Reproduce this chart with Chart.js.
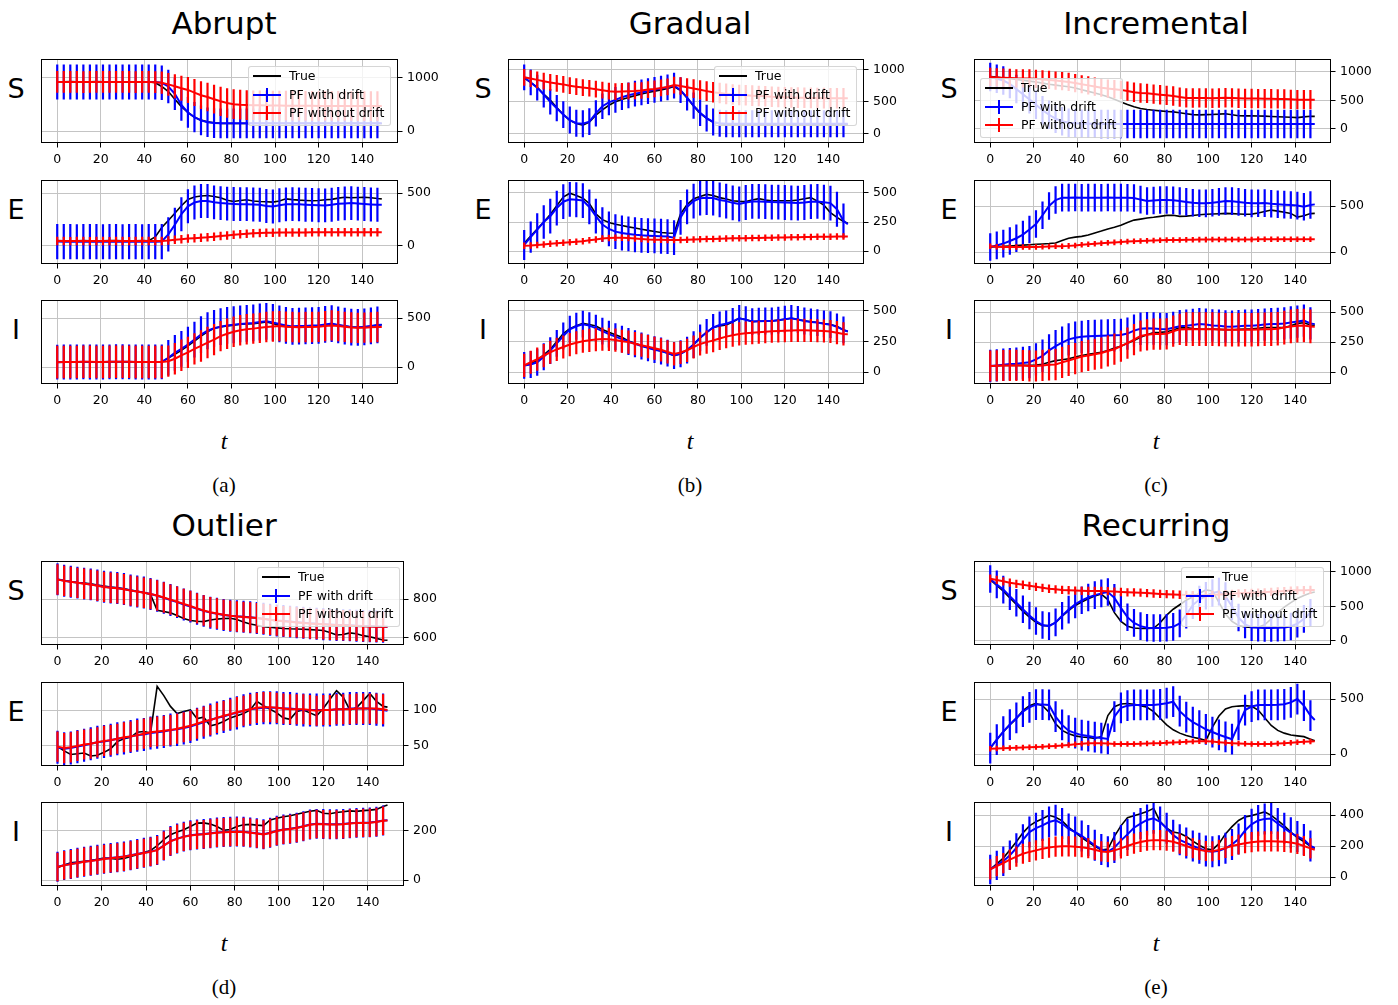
<!DOCTYPE html>
<html><head><meta charset="utf-8">
<script src="https://cdn.jsdelivr.net/npm/chart.js@4.4.0/dist/chart.umd.min.js"></script>
<style>
html,body{margin:0;padding:0;background:#fff;}
body{width:1398px;height:1005px;position:relative;overflow:hidden;font-family:"DejaVu Sans";color:#000;}
.txt{position:absolute;white-space:nowrap;line-height:1;transform:translateX(-50%);}
canvas{position:absolute;}
.leg{position:absolute;width:141px;height:58px;background:rgba(255,255,255,0.8);border:1px solid rgba(204,204,204,0.8);border-radius:3px;font-family:"DejaVu Sans";font-size:12.5px;z-index:5;}
.leg .row{position:absolute;left:0;height:18px;width:141px;}
.leg svg{position:absolute;left:3px;top:0;}
.leg span{position:absolute;left:40px;top:0;line-height:18px;white-space:nowrap;}
</style></head><body>
<script>
// ---------- DATA ----------
const T = [0,3,6,9,12,15,18,21,24,27, 30,33,36,39,42,45,48,51,54,57, 60,63,66,69,72,75,78,81,84,87, 90,93,96,99,102,105,108,111,114,117, 120,123,126,129,132,135,138,141,144,147, 149];
const xTicks = [0,20,40,60,80,100,120,140];
const legendLabels = ['True','PF with drift','PF without drift'];
const panelTitles = ['Abrupt','Gradual','Incremental','Outlier','Recurring'];
const panelCaptions = ['(a)','(b)','(c)','(d)','(e)'];
const rowLabels = ['S','E','I'];
const axisLabel = 't';

// Abrupt
const abruptS_yTicks = [0,1000];
const abruptS_true = [930,930,931,930,929,930,931,930,930,929, 930,930,929,930,930,910,840,745,600,460, 350,260,205,172,155,145,143,142,142,142, 142,142,142,142,142,142,142,142,142,142, 142,142,142,142,142,142,142,142,142,142, 142];
const abruptS_drift = [925,926,925,924,925,926,925,924,925,926, 925,924,925,926,925,922,910,840,700,490, 350,260,200,165,150,145,145,145,145,145, 145,145,145,145,145,145,145,145,145,145, 145,145,145,145,145,145,145,145,145,145, 145];
const abruptS_driftErr = [330,330,330,330,330,330,330,330,330,330, 330,330,330,330,330,330,325,315,305,295, 290,285,282,280,280,280,280,280,280,280, 280,280,280,280,280,280,280,280,280,280, 280,280,280,280,280,280,280,280,280,280];
const abruptS_noDrift = [925,925,926,925,924,925,925,926,925,925, 925,925,924,925,925,920,912,880,845,805, 775,725,675,640,600,560,528,506,496,490, 486,484,482,480,479,478,477,476,475,475, 474,474,473,473,472,472,471,471,470,470, 470];
const abruptS_noDriftErr = [205,205,205,205,205,205,205,205,205,205, 205,205,205,205,205,205,208,215,225,235, 245,255,262,268,272,276,278,280,280,280, 280,280,280,280,280,280,280,280,280,280, 280,280,280,280,280,280,280,280,280,280];

const abruptE_yTicks = [0,500];
const abruptE_true = [52,50,49,50,51,50,48,50,52,51, 50,49,50,51,50,85,175,240,310,380, 440,462,472,477,468,456,432,420,430,436, 425,420,418,414,425,445,438,433,430,427, 430,436,440,452,460,455,458,460,455,448, 445];
const abruptE_drift = [42,41,41,40,41,42,41,40,41,41, 40,41,41,40,41,41,42,110,200,300, 375,410,425,425,412,405,400,397,395,395, 392,389,378,373,385,393,395,393,390,388, 385,383,390,398,402,405,400,396,392,389, 389];
const abruptE_driftErr = [166,166,166,166,166,166,166,166,166,166, 166,166,166,166,166,166,166,162,160,160, 160,160,160,160,160,160,160,160,160,160, 160,160,160,160,160,160,160,160,160,160, 160,160,160,160,160,160,160,160,160,160];
const abruptE_noDrift = [47,47,46,47,47,46,47,47,46,47, 47,46,47,47,47,47,48,52,58,64, 70,74,78,82,88,95,100,106,111,116, 120,123,125,126,127,127,128,128,128,129, 129,129,129,130,130,130,130,130,130,130, 130];
const abruptE_noDriftErr = [40,40,40,40,40,40,40,40,40,40, 40,40,40,40,40,40,40,40,40,40, 40,40,40,40,40,40,40,40,40,40, 40,40,40,40,40,40,40,40,40,40, 40,40,40,40,40,40,40,40,40,40];

const abruptI_yTicks = [0,500];
const abruptI_true = [50,51,52,52,53,52,51,52,53,54, 54,53,52,52,51,51,52,92,130,170, 215,265,315,360,395,410,420,428,436,440, 443,450,459,445,425,415,408,410,415,418, 422,430,436,428,418,408,405,408,415,428, 432];
const abruptI_drift = [50,51,52,52,53,52,51,52,53,54, 54,53,52,52,51,51,53,95,145,185, 230,280,330,370,395,412,425,432,440,445, 450,460,466,455,440,425,415,418,420,423, 425,435,443,430,418,408,405,410,420,430, 432];
const abruptI_driftErr = [178,178,178,178,178,178,178,178,178,178, 178,178,178,178,178,178,178,182,182,182, 182,182,188,188,188,188,188,188,188,188, 188,188,188,188,188,188,188,188,188,188, 188,188,188,188,188,188,188,188,188,188];
const abruptI_noDrift = [50,51,52,52,53,53,52,52,53,54, 54,53,52,52,51,51,52,60,85,120, 150,185,215,250,280,315,340,360,375,385, 392,400,408,413,418,412,408,405,408,408, 410,418,425,418,410,403,400,402,405,408, 408];
const abruptI_noDriftErr = [166,166,166,166,166,166,166,166,166,166, 166,166,166,166,166,166,166,160,160,160, 160,160,160,160,160,155,155,155,155,155, 155,155,155,155,155,155,155,155,155,155, 155,155,155,155,155,155,155,155,155,155];

// Gradual
const gradualS_yTicks = [0,500,1000];
const gradualS_true = [869,800,725,620,525,410,300,210,160,135, 185,290,375,445,500,535,565,595,620,645, 665,685,705,736,675,560,430,320,240,180, 160,150,148,148,148,148,148,148,148,148, 148,148,148,148,148,148,148,148,148,148, 148];
const gradualS_drift = [880,800,720,610,500,400,300,215,165,158, 190,320,430,490,530,570,600,625,645,665, 685,705,725,750,680,565,440,330,245,185, 165,158,158,158,158,158,158,158,158,158, 158,158,158,158,158,158,158,158,158,158, 158];
const gradualS_driftErr = [200,200,200,200,200,205,208,210,210,210, 208,205,200,200,200,200,200,200,200,200, 200,200,200,200,200,200,205,208,210,210, 210,210,210,210,210,210,210,210,210,210, 210,210,210,210,210,210,210,210,210,210];
const gradualS_noDrift = [880,860,840,820,800,785,770,750,735,720, 710,695,680,665,657,660,665,668,675,690, 700,715,730,760,745,725,705,685,665,647, 635,622,612,605,600,595,590,585,578,575, 570,567,564,562,560,558,556,555,554,553, 553];
const gradualS_noDriftErr = [130,130,130,130,130,130,130,130,130,130, 130,130,130,130,130,130,130,130,130,130, 130,130,130,130,135,140,145,150,155,160, 160,160,160,160,160,160,160,160,160,160, 160,160,160,160,160,160,160,160,160,160];

const gradualE_yTicks = [0,250,500];
const gradualE_true = [67,130,190,250,315,390,465,498,478,455, 410,320,270,245,230,220,208,198,188,178, 168,160,155,153,320,400,450,470,488,478, 460,448,433,428,427,440,451,440,433,433, 433,433,440,451,460,430,395,330,290,255, 240];
const gradualE_drift = [52,120,185,250,300,370,425,445,442,435, 380,300,228,190,167,155,147,140,135,132, 130,127,124,115,290,380,430,455,460,457, 440,430,415,405,418,427,427,425,422,421, 418,415,413,418,425,427,420,413,360,260, 231];
const gradualE_driftErr = [130,135,140,145,150,150,150,150,150,150, 150,150,150,150,150,150,150,150,150,150, 150,150,150,150,150,150,150,150,150,150, 150,150,150,150,150,150,150,150,150,150, 150,150,150,150,150,150,150,150,150,150];
const gradualE_noDrift = [46,48,52,57,62,67,72,76,80,85, 92,100,108,112,115,114,112,108,104,100, 98,96,95,94,95,97,99,101,103,104, 106,108,109,110,111,112,113,114,115,116, 117,118,119,120,121,122,123,123,124,124, 124];
const gradualE_noDriftErr = [28,28,28,28,28,28,28,28,28,28, 28,28,28,28,28,28,28,28,28,28, 28,28,28,28,28,28,28,28,28,28, 28,28,28,28,28,28,28,28,28,28, 28,28,28,28,28,28,28,28,28,28];

const gradualI_yTicks = [0,250,500];
const gradualI_true = [54,70,95,140,185,250,315,355,380,398, 390,377,348,325,305,285,255,235,215,200, 185,172,155,135,150,180,225,280,325,365, 378,386,410,440,430,413,416,418,418,425, 432,440,430,420,412,406,398,390,375,345, 332];
const gradualI_drift = [54,62,80,125,175,235,295,350,375,392, 380,360,335,310,290,270,250,232,213,198, 183,172,155,135,150,180,225,280,325,365, 385,395,415,440,428,413,416,418,418,425, 432,440,430,418,410,405,395,388,370,345, 332];
const gradualI_driftErr = [110,110,110,110,110,110,110,110,110,110, 110,110,110,110,110,110,110,110,110,110, 110,110,110,110,110,110,110,110,110,110, 110,110,110,110,110,110,110,110,110,110, 110,110,110,110,110,110,110,110,110,110];
const gradualI_noDrift = [54,80,105,135,162,185,205,225,240,252, 260,266,270,268,262,252,245,232,220,208, 195,182,165,148,160,178,205,230,245,258, 275,290,302,312,318,322,326,330,334,336, 338,340,342,342,340,338,336,332,322,312, 310];
const gradualI_noDriftErr = [95,95,95,95,95,95,95,95,95,95, 95,95,95,95,95,95,95,95,95,95, 95,95,95,95,95,95,95,95,95,95, 95,95,95,95,95,95,95,95,95,95, 95,95,95,95,95,95,95,95,95,95];

// Incremental
const incrementalS_yTicks = [0,500,1000];
const incrementalS_true = [920,910,895,885,870,855,840,825,805,785, 770,755,740,720,690,660,630,600,565,520, 475,430,390,360,343,330,318,308,300,285, 268,252,248,252,255,260,268,250,232,230, 230,229,226,220,214,210,205,200,212,223, 222];
const incrementalS_drift = [914,880,850,790,700,610,520,425,330,250, 180,135,110,100,94,92,90,89,88,88, 88,88,88,88,88,88,88,88,88,88, 88,88,88,88,88,88,88,88,88,88, 88,88,88,88,88,88,88,88,88,88, 88];
const incrementalS_driftErr = [250,250,250,250,250,250,250,250,250,250, 250,250,250,250,250,250,250,250,250,250, 250,250,250,250,250,250,250,250,250,250, 250,250,250,250,250,250,250,250,250,250, 250,250,250,250,250,250,250,250,250,250];
const incrementalS_noDrift = [914,905,900,895,890,888,886,880,870,860, 850,838,825,805,785,765,745,725,710,698, 686,665,645,632,625,612,600,590,578,560, 545,543,545,543,540,543,548,545,540,537, 535,533,532,530,528,525,520,515,515,515, 515];
const incrementalS_noDriftErr = [160,160,160,160,160,160,160,160,160,160, 160,160,160,160,160,160,160,160,160,160, 160,170,170,170,170,170,170,170,170,170, 170,170,170,170,170,170,170,170,170,170, 170,170,170,170,170,170,170,170,170,170];

const incrementalE_yTicks = [0,500];
const incrementalE_true = [55,58,62,66,70,75,80,84,88,92, 98,125,150,162,170,185,208,228,250,270, 292,322,347,358,370,378,388,398,400,388, 390,398,405,410,413,416,420,418,414,410, 412,425,440,456,445,432,420,380,395,418, 420];
const incrementalE_drift = [55,72,92,120,150,190,245,305,400,500, 565,591,591,592,590,591,591,590,592,591, 591,590,588,570,555,560,566,566,562,555, 545,535,530,529,535,545,555,553,545,535, 529,530,532,525,520,515,511,505,493,512, 518];
const incrementalE_driftErr = [150,150,150,150,150,150,150,150,150,150, 150,150,150,150,150,150,150,150,150,150, 150,150,150,150,150,150,150,150,150,150, 150,150,150,150,150,150,150,150,150,150, 150,150,150,150,150,150,150,150,150,150];
const incrementalE_noDrift = [62,58,56,55,54,54,55,56,58,60, 62,64,67,72,78,84,90,95,100,105, 110,114,117,120,123,126,128,130,131,132, 133,134,135,135,136,136,136,137,137,137, 137,138,138,138,138,139,139,139,139,139, 139];
const incrementalE_noDriftErr = [30,30,30,30,30,30,30,30,30,30, 30,30,30,30,30,30,30,30,30,30, 30,30,30,30,30,30,30,30,30,30, 30,30,30,30,30,30,30,30,30,30, 30,30,30,30,30,30,30,30,30,30];

const incrementalI_yTicks = [0,250,500];
const incrementalI_true = [50,52,54,55,55,55,55,57,65,82, 95,102,110,125,138,148,155,165,180,200, 215,240,262,290,310,328,330,335,350,368, 370,362,357,356,357,355,353,352,355,357, 360,365,370,371,371,371,385,405,410,392, 390];
const incrementalI_drift = [50,55,60,66,69,75,82,105,135,180, 215,245,272,285,293,298,300,302,304,306, 308,320,345,360,364,362,358,357,368,382, 385,392,399,395,388,385,380,378,382,385, 385,390,395,399,400,405,412,420,428,405, 399];
const incrementalI_driftErr = [135,135,135,135,135,135,135,135,135,135, 135,135,135,135,135,135,135,135,135,135, 135,135,135,135,135,135,135,135,135,135, 135,135,135,135,135,135,135,135,135,135, 135,135,135,135,135,135,135,135,135,135];
const incrementalI_noDrift = [50,52,54,55,55,54,51,50,55,60, 62,80,96,112,128,138,148,158,175,190, 215,240,270,300,310,316,316,318,340,355, 357,357,357,357,357,354,352,352,352,352, 352,354,356,357,360,370,380,385,388,380, 378];
const incrementalI_noDriftErr = [130,130,130,130,130,130,130,130,130,130, 130,130,130,130,130,130,130,130,130,130, 130,130,130,130,130,130,130,130,130,130, 140,140,140,140,140,140,140,140,140,140, 140,140,140,140,140,140,140,140,140,140];

// Outlier
const outlierS_yTicks = [600,800];
const outlierS_true = [900,895,889,885,882,878,872,867,862,858, 852,846,840,832,824,742,736,729,715,700, 690,686,684,692,697,700,701,695,682,672, 665,658,655,652,649,647,646,645,643,641, 638,628,615,618,626,622,612,606,598,590, 588];
const outlierS_drift = [901,894,889,884,879,875,869,863,859,856, 851,844,839,833,826,817,806,795,784,772, 761,750,739,730,724,718,714,711,709,706, 703,699,694,690,687,684,681,678,675,673, 671,669,667,666,665,663,661,660,659,658, 658];
const outlierS_driftErr = [82,82,82,82,82,82,82,82,82,82, 82,82,82,82,82,82,82,82,82,82, 82,82,82,82,82,82,82,82,82,82, 82,82,82,82,82,82,82,82,82,82, 82,82,82,82,82,82,82,82,82,82];
const outlierS_noDrift = [900,893,888,883,878,874,868,862,858,855, 850,843,838,832,826,818,808,797,786,775, 764,752,741,732,726,719,714,710,708,705, 702,698,693,689,686,683,680,677,674,672, 670,668,666,665,664,662,660,659,658,657, 657];
const outlierS_noDriftErr = [78,78,78,78,78,78,78,78,78,78, 78,78,78,78,78,78,78,78,78,78, 78,78,78,78,78,78,78,78,78,78, 78,78,78,78,78,78,78,78,78,78, 78,78,78,78,78,78,78,78,78,78];

const outlierE_yTicks = [50,100];
const outlierE_true = [49,43,38,39,40,36,37,41,46,56, 60,62,69,70,68,133,120,105,95,98, 100,88,90,78,80,84,89,92,95,100, 112,106,101,96,89,87,98,100,96,92, 102,115,127,118,100,103,113,123,112,105, 104];
const outlierE_drift = [48,46,47,49,51,53,55,56,58,60, 61,63,65,66,68,69,70,72,73,75, 77,80,83,86,89,91,94,96,99,101, 102,103,103,103,102,102,101,100,100,100, 100,100,101,101,102,102,102,102,101,100, 99];
const outlierE_driftErr = [23,23,23,23,23,23,23,23,23,23, 23,23,23,23,23,23,23,23,23,23, 23,23,23,23,23,23,23,23,23,23, 23,23,23,23,23,23,23,23,23,23, 23,23,23,23,23,23,23,23,23,23];
const outlierE_noDrift = [49,47,48,50,52,53,55,57,58,60, 62,63,65,67,69,70,71,72,74,76, 78,81,84,86,89,92,94,97,99,101, 103,104,104,103,102,101,101,101,100,99, 100,100,101,101,101,102,102,102,102,101, 100];
const outlierE_noDriftErr = [21,21,21,21,21,21,21,21,21,21, 21,21,21,21,21,21,21,21,21,21, 21,21,21,21,21,21,21,21,21,21, 21,21,21,21,21,21,21,21,21,21, 21,21,21,21,21,21,21,21,21,21];

const outlierI_yTicks = [0,200];
const outlierI_true = [50,62,71,74,77,80,85,90,88,85, 88,96,103,112,120,140,165,185,196,205, 218,232,233,228,218,203,206,218,225,227, 224,222,245,252,258,262,268,274,280,284, 272,270,275,278,282,280,283,285,288,300, 306];
const outlierI_drift = [54,61,66,71,75,79,83,87,90,93, 96,101,106,111,116,123,141,159,169,177, 183,186,188,191,194,196,197,198,197,194, 191,187,193,201,206,209,213,219,226,229, 228,227,227,228,231,233,234,235,238,243, 244];
const outlierI_driftErr = [61,61,61,61,61,61,61,61,61,61, 61,61,61,61,61,61,61,61,61,61, 61,61,61,61,61,61,61,61,61,61, 61,61,61,61,61,61,61,61,61,61, 61,61,61,61,61,61,61,61,61,61];
const outlierI_noDrift = [53,60,65,70,75,78,82,86,89,92, 95,100,105,110,115,122,140,158,168,176, 182,185,187,190,193,195,196,197,196,193, 190,186,192,200,205,208,212,218,225,228, 227,226,226,227,230,232,233,234,237,242, 243];
const outlierI_noDriftErr = [58,58,58,58,58,58,58,58,58,58, 58,58,58,58,58,58,58,58,58,58, 58,58,58,58,58,58,58,58,58,58, 58,58,58,58,58,58,58,58,58,58, 58,58,58,58,58,58,58,58,58,58];

// Recurring
const recurringS_yTicks = [0,500,1000];
const recurringS_true = [889,805,722,625,530,430,345,270,220,222, 265,360,440,515,565,612,652,680,600,410, 285,215,188,182,182,184,264,375,460,525, 590,640,690,740,725,560,390,285,225,205, 195,200,235,320,410,490,555,615,660,695, 710];
const recurringS_drift = [898,820,745,650,555,460,370,290,232,216, 270,365,455,530,590,630,665,690,710,625, 480,345,262,215,192,188,188,192,205,255, 380,520,600,655,695,716,650,500,340,240, 200,192,190,190,192,195,210,250,320,410, 460];
const recurringS_driftErr = [200,200,200,200,200,200,200,200,200,200, 200,200,200,200,200,200,200,200,200,200, 200,200,200,200,200,200,200,200,200,200, 200,200,200,200,200,200,200,200,200,200, 200,200,200,200,200,200,200,200,200,200];
const recurringS_noDrift = [903,885,865,845,828,815,800,785,770,757, 748,740,735,730,727,726,726,725,722,716, 710,706,703,700,695,688,682,678,674,670, 667,665,664,664,667,672,678,684,690,695, 698,702,706,712,718,724,730,734,737,740, 740];
const recurringS_noDriftErr = [60,60,60,60,60,60,60,60,60,60, 60,60,60,60,60,60,60,60,60,60, 60,60,60,60,60,60,60,60,60,60, 60,60,60,60,60,60,60,60,60,60, 60,60,60,60,60,60,60,60,60,60];

const recurringE_yTicks = [0,500];
const recurringE_true = [54,130,203,265,322,395,440,460,440,380, 275,215,185,165,155,150,142,160,350,430, 455,460,452,440,425,385,325,265,220,190, 168,152,140,122,245,345,410,430,436,440, 435,400,330,260,215,190,173,165,158,135, 120];
const recurringE_drift = [54,130,203,268,328,385,425,450,450,446, 340,265,212,190,172,163,153,145,137,340, 420,440,446,446,446,446,452,462,476,390, 335,290,258,225,200,175,155,135,265,400, 432,446,446,446,448,452,470,500,440,350, 310];
const recurringE_driftErr = [140,140,140,140,140,140,140,140,140,140, 140,140,140,140,140,140,140,140,140,140, 140,140,140,140,140,140,140,140,140,140, 140,140,140,140,140,140,140,140,140,140, 140,140,140,140,140,140,140,140,140,140];
const recurringE_noDrift = [48,50,53,55,57,59,61,64,67,70, 74,78,83,88,93,97,99,98,95,92, 90,90,91,93,95,97,99,102,105,108, 111,113,115,115,113,108,103,99,96,93, 91,90,90,92,95,99,103,107,111,114, 115];
const recurringE_noDriftErr = [25,25,25,25,25,25,25,25,25,25, 25,25,25,25,25,25,25,25,25,25, 25,25,25,25,25,25,25,25,25,25, 25,25,25,25,25,25,25,25,25,25, 25,25,25,25,25,25,25,25,25,25];

const recurringI_yTicks = [0,200,400];
const recurringI_true = [49,85,122,175,228,285,330,357,376,398, 385,362,320,288,255,225,198,174,180,262, 330,382,395,408,422,443,358,315,290,282, 262,232,205,182,175,215,278,325,365,388, 396,408,420,398,365,330,290,255,228,198, 185];
const recurringI_drift = [49,75,102,140,187,240,290,315,333,355, 366,345,310,290,265,235,205,178,163,190, 235,275,318,345,368,379,355,315,270,240, 220,200,185,168,163,170,185,210,245,300, 340,365,375,378,345,315,285,262,242,200, 187];
const recurringI_driftErr = [95,95,95,95,95,100,100,100,100,100, 100,100,100,100,100,100,100,100,100,100, 100,100,100,100,100,100,100,100,100,100, 100,100,100,100,100,100,100,100,100,100, 100,100,100,100,100,100,100,100,100,100];
const recurringI_noDrift = [49,70,90,112,132,150,162,172,182,190, 196,198,198,196,192,186,176,165,162,172, 185,200,215,226,234,238,238,234,228,215, 200,186,175,168,166,175,188,200,210,218, 225,229,230,230,229,227,222,214,200,185, 176];
const recurringI_noDriftErr = [65,65,65,65,65,65,65,65,65,65, 65,65,65,65,65,65,65,65,65,65, 65,65,65,65,65,65,65,65,65,65, 65,65,65,65,65,65,65,65,65,65, 65,65,65,65,65,65,65,65,65,65];

// ---------- LAYOUT ----------
const COL = {
  a:{left:41,w:357,title:0,cx:224,top:[59,180,300]},
  b:{left:508,w:356,title:1,cx:690,top:[59,180,300]},
  c:{left:974,w:357,title:2,cx:1156,top:[59,180,300]},
  d:{left:41,w:363,title:3,cx:224,top:[561,682,802]},
  e:{left:974,w:357,title:4,cx:1156,top:[561,682,802]}
};
const H = 84, RW = 54, BH = 28;
const legendPos = {a:[248,66], b:[714,66], c:[980,78], d:[257,567], e:[1181,567]};

const subplots = [
  ['a',0,-226,1358,abruptS_yTicks,abruptS_true,abruptS_drift,abruptS_driftErr,abruptS_noDrift,abruptS_noDriftErr],
  ['a',1,-170,623,abruptE_yTicks,abruptE_true,abruptE_drift,abruptE_driftErr,abruptE_noDrift,abruptE_noDriftErr],
  ['a',2,-173,684,abruptI_yTicks,abruptI_true,abruptI_drift,abruptI_driftErr,abruptI_noDrift,abruptI_noDriftErr],
  ['b',0,-142,1165,gradualS_yTicks,gradualS_true,gradualS_drift,gradualS_driftErr,gradualS_noDrift,gradualS_noDriftErr],
  ['b',1,-112,612,gradualE_yTicks,gradualE_true,gradualE_drift,gradualE_driftErr,gradualE_noDrift,gradualE_noDriftErr],
  ['b',2,-98,590,gradualI_yTicks,gradualI_true,gradualI_drift,gradualI_driftErr,gradualI_noDrift,gradualI_noDriftErr],
  ['c',0,-246,1228,incrementalS_yTicks,incrementalS_true,incrementalS_drift,incrementalS_driftErr,incrementalS_noDrift,incrementalS_noDriftErr],
  ['c',1,-130,783,incrementalE_yTicks,incrementalE_true,incrementalE_drift,incrementalE_driftErr,incrementalE_noDrift,incrementalE_noDriftErr],
  ['c',2,-100,600,incrementalI_yTicks,incrementalI_true,incrementalI_drift,incrementalI_driftErr,incrementalI_noDrift,incrementalI_noDriftErr],
  ['d',0,564,995,outlierS_yTicks,outlierS_true,outlierS_drift,outlierS_driftErr,outlierS_noDrift,outlierS_noDriftErr],
  ['d',1,22,139,outlierE_yTicks,outlierE_true,outlierE_drift,outlierE_driftErr,outlierE_noDrift,outlierE_noDriftErr],
  ['d',2,-24,318,outlierI_yTicks,outlierI_true,outlierI_drift,outlierI_driftErr,outlierI_noDrift,outlierI_noDriftErr],
  ['e',0,-58,1159,recurringS_yTicks,recurringS_true,recurringS_drift,recurringS_driftErr,recurringS_noDrift,recurringS_noDriftErr],
  ['e',1,-109,655,recurringE_yTicks,recurringE_true,recurringE_drift,recurringE_driftErr,recurringE_noDrift,recurringE_noDriftErr],
  ['e',2,-58,484,recurringI_yTicks,recurringI_true,recurringI_drift,recurringI_driftErr,recurringI_noDrift,recurringI_noDriftErr]
];

// ---------- PLUGINS ----------
const errorBars = {
  id:'errorBars',
  afterDatasetDraw(chart, args){
    const ds = chart.data.datasets[args.index];
    if(!ds.err) return;
    const ctx = chart.ctx, a = chart.chartArea, xs = chart.scales.x, ys = chart.scales.y;
    ctx.save();
    ctx.beginPath(); ctx.rect(a.left, a.top, a.right-a.left, a.bottom-a.top); ctx.clip();
    ctx.strokeStyle = ds.borderColor; ctx.lineWidth = 2.2; ctx.lineCap = 'butt';
    ctx.beginPath();
    ds.err.forEach((e,i)=>{
      const p = ds.data[i];
      const px = xs.getPixelForValue(p.x);
      ctx.moveTo(px, ys.getPixelForValue(p.y - e));
      ctx.lineTo(px, ys.getPixelForValue(p.y + e));
    });
    ctx.stroke();
    ctx.restore();
  }
};
const frame = {
  id:'frame',
  afterDraw(chart){
    const ctx = chart.ctx, a = chart.chartArea;
    ctx.save(); ctx.strokeStyle = '#000'; ctx.lineWidth = 1;
    ctx.strokeRect(a.left+0.5, a.top+0.5, a.right-a.left-1, a.bottom-a.top-1);
    ctx.restore();
  }
};
Chart.register(errorBars, frame);
Chart.defaults.font.family = 'DejaVu Sans';
Chart.defaults.font.size = 12.5;
Chart.defaults.color = '#000';

const pts = v => v.map((y,i)=>({x:T[i], y}));

function addText(str, cx, baseline, size, family, style){
  const d = document.createElement('div');
  d.className = 'txt';
  d.textContent = str;
  d.style.left = cx+'px';
  d.style.fontSize = size+'px';
  d.style.fontFamily = family;
  if(style) d.style.fontStyle = style;
  const asc = family.indexOf('Serif')>=0 && family.indexOf('DejaVu')<0 ? 0.84 : 0.846;
  d.style.top = (baseline - asc*size)+'px';
  document.body.appendChild(d);
}

subplots.forEach(sp=>{
  const [colKey,row,ymin,ymax,yt,tv,dv,de,nv,ne] = sp;
  const col = COL[colKey];
  const top = col.top[row];
  const cv = document.createElement('canvas');
  cv.width = col.w + RW; cv.height = H + BH;
  cv.style.left = col.left+'px'; cv.style.top = top+'px';
  cv.style.width = (col.w+RW)+'px'; cv.style.height = (H+BH)+'px';
  document.body.appendChild(cv);
  new Chart(cv.getContext('2d'), {
    type:'line',
    data:{datasets:[
      {label:legendLabels[0], data:pts(tv), borderColor:'#000000', borderWidth:1.6, order:3},
      {label:legendLabels[1], data:pts(dv), err:de, borderColor:'#0000ff', borderWidth:2, order:2},
      {label:legendLabels[2], data:pts(nv), err:ne, borderColor:'#ff0000', borderWidth:2, order:1}
    ]},
    options:{
      responsive:false, animation:false, devicePixelRatio:1,
      layout:{padding:0},
      elements:{point:{radius:0}, line:{tension:0, fill:false}},
      plugins:{legend:{display:false}, tooltip:{enabled:false}},
      scales:{
        x:{type:'linear', min:-7.45, max:156.45, position:'bottom',
          afterBuildTicks:s=>{s.ticks = xTicks.map(v=>({value:v}));},
          afterFit:s=>{s.height = BH; s.paddingLeft = 0; s.paddingRight = 0; s.paddingTop = 0; s.paddingBottom = 0;},
          ticks:{autoSkip:false, maxRotation:0, padding:5, callback:v=>String(v)},
          grid:{color:'#c4c4c4', lineWidth:1, drawTicks:true, tickLength:4.5, tickColor:'#000', tickWidth:1},
          border:{display:false}},
        y:{type:'linear', min:ymin, max:ymax, position:'right',
          afterBuildTicks:s=>{s.ticks = yt.map(v=>({value:v}));},
          afterFit:s=>{s.width = RW; s.paddingTop = 0; s.paddingBottom = 0; s.paddingLeft = 0; s.paddingRight = 0;},
          ticks:{autoSkip:false, padding:4.5, callback:v=>String(v)},
          grid:{color:'#c4c4c4', lineWidth:1, drawTicks:true, tickLength:4.5, tickColor:'#000', tickWidth:1},
          border:{display:false}}
      }
    }
  });
  addText(rowLabels[row], col.left-25, top+39, 27, 'DejaVu Sans');
});

Object.keys(COL).forEach(k=>{
  const col = COL[k];
  const cx = col.cx;
  const base = col.top[0] - 59;
  addText(panelTitles[col.title], cx, base+34, 31, 'DejaVu Sans');
  addText(axisLabel, cx, base+449, 24, 'Liberation Serif', 'italic');
  addText(panelCaptions[col.title], cx, base+493, 21, 'Liberation Serif');
  const [lx,ly] = legendPos[k];
  const lg = document.createElement('div');
  lg.className = 'leg';
  lg.style.left = lx+'px'; lg.style.top = ly+'px';
  const colors = ['#000000','#0000ff','#ff0000'];
  legendLabels.forEach((lab,i)=>{
    const r = document.createElement('div');
    r.className = 'row';
    r.style.top = (i===0?0:(i===1?19:37))+'px';
    const bar = i>0 ? `<line x1="15" y1="2" x2="15" y2="16" stroke="${colors[i]}" stroke-width="2"/>` : '';
    r.innerHTML = `<svg width="30" height="18"><line x1="1" y1="9" x2="29" y2="9" stroke="${colors[i]}" stroke-width="2"/>${bar}</svg>`;
    const s2 = document.createElement('span');
    s2.textContent = lab;
    r.appendChild(s2);
    lg.appendChild(r);
  });
  document.body.appendChild(lg);
});
</script>
</body></html>
